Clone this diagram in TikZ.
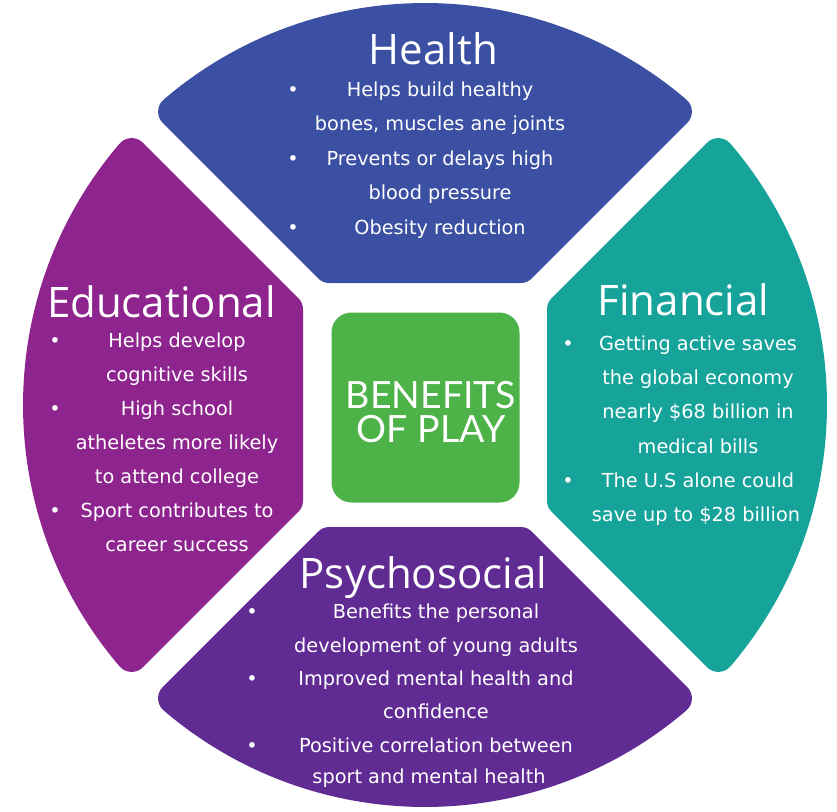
\documentclass[tikz,border=0pt]{standalone}
\usepackage{fontspec}
\setmainfont{DejaVu Sans}
\newfontfamily\titlefont{Open Sans}
\newfontfamily\centerfont{Lato}
\definecolor{hblue}{RGB}{59,79,163}
\definecolor{epurple}{RGB}{142,36,142}
\definecolor{fteal}{RGB}{22,163,154}
\definecolor{ppurple}{RGB}{96,43,146}
\definecolor{cgreen}{RGB}{77,178,72}
\tikzset{
  seg/.style={line width=32pt, line join=round},
  body/.style={anchor=base, inner sep=0pt, text=white, font=\fontsize{19.3}{23}\selectfont},
  ttl/.style={anchor=base, inner sep=0pt, text=white, font=\titlefont\fontsize{42}{48}\selectfont},
  centerbox/.style={fill=cgreen, rounded corners=20pt, minimum width=188pt, minimum height=190pt, inner sep=0pt},
  centertext/.style={anchor=base, inner sep=0pt, text=white, font=\centerfont\fontsize{37.5}{40}\selectfont}
}
\begin{document}
\begin{tikzpicture}[x=1pt,y=-1pt]
\fill[white] (0,0) rectangle (837,811);
\useasboundingbox (0,0) rectangle (837,811);
% four segments
\begin{scope}[shift={(425,405)}, yscale=-1]
  \foreach \a/\c in {0/hblue,90/fteal,180/ppurple,270/epurple}{
    \path[seg, fill=\c, draw=\c, rotate=\a]
      (49.457:386) arc[start angle=49.457, end angle=130.543, radius=386]
      -- (-95.57,138) -- (95.57,138) -- cycle;
  }
\end{scope}
% centre
\node[centerbox] (center) at (425.5,407.5) {};
\node[centertext] (cen1) at (431,408) {BENEFITS};
\node[centertext] (cen2) at (431,442) {OF PLAY};
% Health
\node[ttl] (htitle) at (433.5,64) {Health};
\node[body] (hb1) at (293,96) {•};
\node[body] (hb2) at (293,165) {•};
\node[body] (hb3) at (293,234) {•};
\node[body] (h1) at (440,96) {Helps build healthy};
\node[body] (h2) at (440,130) {bones, muscles ane joints};
\node[body] (h3) at (440,165) {Prevents or delays high};
\node[body] (h4) at (440,199) {blood pressure};
\node[body] (h5) at (440,234) {Obesity reduction};
% Educational
\node[ttl] (etitle) at (161.5,317) {Educational};
\node[body] (eb1) at (55,347) {•};
\node[body] (eb2) at (55,415) {•};
\node[body] (eb3) at (55,517) {•};
\node[body] (e1) at (177,347) {Helps develop};
\node[body] (e2) at (177,381) {cognitive skills};
\node[body] (e3) at (177,415) {High school};
\node[body] (e4) at (177,449) {atheletes more likely};
\node[body] (e5) at (177,483) {to attend college};
\node[body] (e6) at (177,517) {Sport contributes to};
\node[body] (e7) at (177,551) {career success};
% Financial
\node[ttl] (ftitle) at (683.5,315) {Financial};
\node[body] (fb1) at (568,350) {•};
\node[body] (fb2) at (568,487) {•};
\node[body] (f1) at (698,350) {Getting active saves};
\node[body] (f2) at (698,384) {the global economy};
\node[body] (f3) at (698,418) {nearly \$68 billion in};
\node[body] (f4) at (698,453) {medical bills};
\node[body] (f5) at (698,487) {The U.S alone could};
\node[body] (f6) at (696,521) {save up to \$28 billion};
% Psychosocial
\node[ttl] (ptitle) at (423.5,588) {Psychosocial};
\node[body] (pb1) at (252,618) {•};
\node[body] (pb2) at (252,685) {•};
\node[body] (pb3) at (252,752) {•};
\node[body] (p1) at (436,618) {Benefits the personal};
\node[body] (p2) at (436,652) {development of young adults};
\node[body] (p3) at (436,685) {Improved mental health and};
\node[body] (p4) at (436,718) {confidence};
\node[body] (p5) at (436,752) {Positive correlation between};
\node[body] (p6) at (429,783) {sport and mental health};
\end{tikzpicture}
\end{document}
